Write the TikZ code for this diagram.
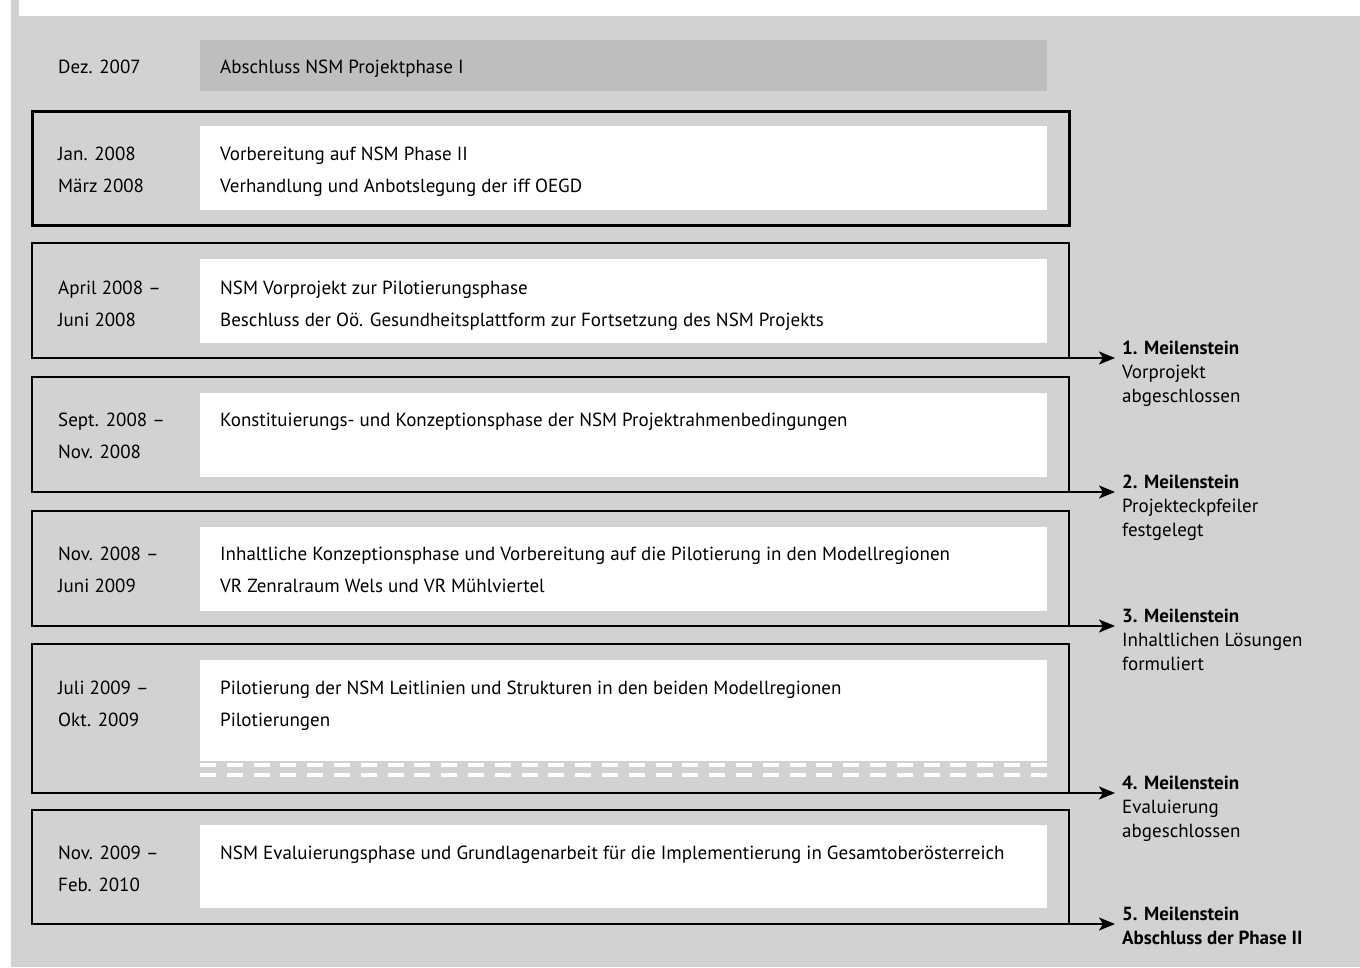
\documentclass[tikz,border=0pt]{standalone}
\usepackage{fontspec}
\setmainfont{PT Sans}
\usetikzlibrary{
  arrows.meta,
  positioning,
  calc
}
\definecolor{panel}{RGB}{209,210,212}
\definecolor{bar}{RGB}{189,190,192}
\newcommand{\ms}[1]{\textbf{#1}}

\begin{document}
\begin{tikzpicture}[x=1pt, y=-1pt,
  every node/.style={inner sep=0pt, anchor=north west, align=left},
  txt/.style={font=\fontsize{19}{32}\selectfont},
  mile/.style={font=\fontsize{19}{24}\selectfont},
  frame/.style={draw=black, line width=2.2pt, line cap=rect},
  arr/.style={-{Stealth[length=16pt, width=13pt, inset=4pt]}, line width=2pt, shorten >=7pt}]
  \useasboundingbox (0,0) rectangle (1360,967);
  \fill[panel] (11,0) rectangle (1360,967);
  \fill[white] (19,0) rectangle (1360,16);

  \fill[bar] (200,40) rectangle (1047,91);
  \node[txt] (d0) at (58,60) {Dez. 2007};
  \node[txt] (p0) at (220,60) {Abschluss NSM Projektphase I};

  \draw[frame, line width=3pt] (32,111) rectangle (1069,225);
  \fill[white] (200,126) rectangle (1047,210);
  \node[txt] (d1) at (58,147) {Jan. 2008\\März 2008};
  \node[txt] (p1) at (220,147) {Vorbereitung auf NSM Phase II\\Verhandlung und Anbotslegung der iff OEGD};

  \coordinate (s2) at (32,358);
  \draw[frame] (s2) |- (1069,243) -- (1069,358);
  \fill[white] (200,259) rectangle (1047,343);
  \node[txt] (d2) at (58,281) {April 2008 --\\Juni 2008};
  \node[txt] (p2) at (220,281) {NSM Vorprojekt zur Pilotierungsphase\\Beschluss der Oö. Gesundheitsplattform zur Fortsetzung des NSM Projekts};
  \node[mile] (m1) at (1122,341) {\ms{1. Meilenstein}\\Vorprojekt\\abgeschlossen};
  \draw[arr] (s2) -- (s2 -| m1.west);

  \coordinate (s3) at (32,492);
  \draw[frame] (s3) |- (1069,377) -- (1069,492);
  \fill[white] (200,393) rectangle (1047,477);
  \node[txt] (d3) at (58,413) {Sept. 2008 --\\Nov. 2008};
  \node[txt] (p3) at (220,413) {Konstituierungs- und Konzeptionsphase der NSM Projektrahmenbedingungen};
  \node[mile] (m2) at (1122,475) {\ms{2. Meilenstein}\\Projekteckpfeiler\\festgelegt};
  \draw[arr] (s3) -- (s3 -| m2.west);

  \coordinate (s4) at (32,626);
  \draw[frame] (s4) |- (1069,511) -- (1069,626);
  \fill[white] (200,527) rectangle (1047,611);
  \node[txt] (d4) at (58,547) {Nov. 2008 --\\Juni 2009};
  \node[txt] (p4) at (220,547) {Inhaltliche Konzeptionsphase und Vorbereitung auf die Pilotierung in den Modellregionen\\VR Zenralraum Wels und VR Mühlviertel};
  \node[mile] (m3) at (1122,609) {\ms{3. Meilenstein}\\Inhaltlichen Lösungen\\formuliert};
  \draw[arr] (s4) -- (s4 -| m3.west);

  \coordinate (s5) at (32,793);
  \draw[frame] (s5) |- (1069,644) -- (1069,793);
  \fill[white] (200,660) rectangle (1047,761);
  \draw[white, line width=4pt, dash pattern=on 16pt off 10.8pt] (200,765) -- (1047,765);
  \draw[white, line width=4pt, dash pattern=on 16pt off 10.8pt] (200,775) -- (1047,775);
  \node[txt] (d5) at (58,681) {Juli 2009 --\\Okt. 2009};
  \node[txt] (p5) at (220,681) {Pilotierung der NSM Leitlinien und Strukturen in den beiden Modellregionen\\Pilotierungen};
  \node[mile] (m4) at (1122,776) {\ms{4. Meilenstein}\\Evaluierung\\abgeschlossen};
  \draw[arr] (s5) -- (s5 -| m4.west);

  \coordinate (s6) at (32,924);
  \draw[frame] (s6) |- (1069,810) -- (1069,924);
  \fill[white] (200,825) rectangle (1047,908);
  \node[txt] (d6) at (58,846) {Nov. 2009 --\\Feb. 2010};
  \node[txt] (p6) at (220,846) {NSM Evaluierungsphase und Grundlagenarbeit für die Implementierung in Gesamtoberösterreich};
  \node[mile] (m5) at (1122,907) {\ms{5. Meilenstein}\\\ms{Abschluss der Phase II}};
  \draw[arr] (s6) -- (s6 -| m5.west);
\end{tikzpicture}
\end{document}
